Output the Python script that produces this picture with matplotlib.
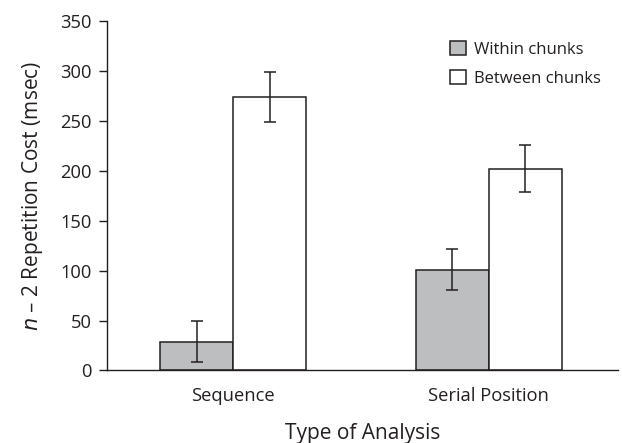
import matplotlib
matplotlib.use("Agg")
import matplotlib.pyplot as plt
import numpy as np

plt.rcParams['font.family'] = ['Open Sans', 'DejaVu Sans']

# data
categories = ['Sequence', 'Serial Position']
within = [29, 101]
within_err = [21, 20.5]
between = [274, 202]
between_err = [25, 23.5]

txt = '#231f20'
fig = plt.figure(figsize=(6.22, 4.43), dpi=100)
ax = fig.add_axes([0.1715, 0.1637, 0.822, 0.7883])

x = np.arange(len(categories))
w = 0.286
ek = dict(ecolor=txt, elinewidth=1.1, capsize=4.5, capthick=1.1)
ax.bar(x - w / 2, within, w, yerr=within_err, color='#bcbec0', edgecolor=txt,
       linewidth=1.1, error_kw=ek, label='Within chunks')
ax.bar(x + w / 2, between, w, yerr=between_err, color='white', edgecolor=txt,
       linewidth=1.1, error_kw=ek, label='Between chunks')

ax.set_xlim(-0.496, 1.506)
ax.set_ylim(0, 350)
ax.set_yticks(range(0, 351, 50))
ax.set_xticks(x)
ax.set_xticklabels(categories)
ax.spines['top'].set_visible(False)
ax.spines['right'].set_visible(False)
for s in ['left', 'bottom']:
    ax.spines[s].set_color(txt)
    ax.spines[s].set_linewidth(1.0)
ax.tick_params(axis='y', length=6, width=1.0, color=txt, labelcolor=txt,
               labelsize=13.2, pad=5)
ax.tick_params(axis='x', length=0, labelcolor=txt, labelsize=13.2, pad=12)

ax.set_xlabel('Type of Analysis', fontsize=15, color=txt, labelpad=13)
ax.set_ylabel('$\\it{n}$ \u2013 2 Repetition Cost (msec)', fontsize=15,
              color=txt, labelpad=11)

leg = ax.legend(loc='upper right', bbox_to_anchor=(0.99, 0.978), frameon=False,
                fontsize=12, handlelength=0.95, handleheight=0.95,
                handletextpad=0.5, labelspacing=0.75, borderaxespad=0.3)
for t in leg.get_texts():
    t.set_color(txt)

fig.savefig('out.png', dpi=100)
